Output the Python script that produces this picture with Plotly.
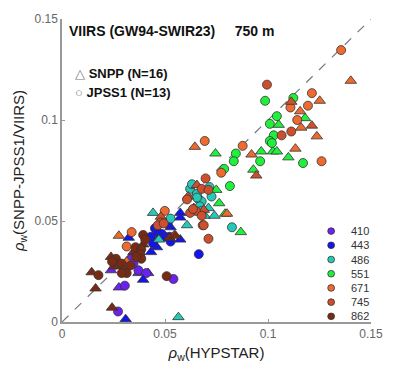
import plotly.graph_objects as go

bands = ["410", "443", "486", "551", "671", "745", "862"]
colors = {"410": "#6B22F0", "443": "#1414F0", "486": "#26C9B8", "551": "#1EF03C",
          "671": "#EE6A2E", "745": "#CF4F2C", "862": "#7A2A12"}

# JPSS1 (circles)
j_x = {
    "410": [0.0272, 0.0305, 0.0371, 0.0409, 0.0541, 0.0347],
    "443": [0.0451, 0.0465, 0.0484, 0.0499, 0.0522, 0.0527, 0.0432, 0.0664, 0.0442, 0.0513],
    "486": [0.0527, 0.0622, 0.0716, 0.0655, 0.0664, 0.0678, 0.0669, 0.0678, 0.0825, 0.0631, 0.0726, 0.0655],
    "551": [0.0986, 0.1123, 0.1043, 0.1009, 0.1028, 0.1009, 0.1019, 0.0844, 0.0834, 0.0962, 0.1170, 0.0787, 0.0815],
    "671": [0.1355, 0.1213, 0.1194, 0.1109, 0.1142, 0.1260, 0.0693, 0.0877, 0.0773, 0.0499, 0.0338, 0.0314, 0.0683],
    "745": [0.0995, 0.1113, 0.1066, 0.0697, 0.0678, 0.0711, 0.0607, 0.0650, 0.0678, 0.0622, 0.0688, 0.0636, 0.0480, 0.0465, 0.0494, 0.0711],
    "862": [0.0394, 0.0404, 0.0357, 0.0385, 0.0262, 0.0267, 0.0290, 0.0333, 0.0300, 0.0314, 0.0290, 0.0177, 0.0508, 0.0380, 0.0385, 0.0243, 0.0361],
}
j_y = {
    "410": [0.0052, 0.0180, 0.0256, 0.0242, 0.0213, 0.0289],
    "443": [0.0464, 0.0445, 0.0436, 0.0422, 0.0422, 0.0398, 0.0422, 0.0336, 0.0389, 0.0488],
    "486": [0.0512, 0.0659, 0.0668, 0.0635, 0.0607, 0.0597, 0.0573, 0.0550, 0.0469, 0.0682, 0.0621, 0.0616],
    "551": [0.1095, 0.1109, 0.1019, 0.0981, 0.0924, 0.0896, 0.0886, 0.0834, 0.0796, 0.0796, 0.0787, 0.0758, 0.0673],
    "671": [0.1346, 0.1133, 0.1071, 0.1062, 0.1000, 0.0796, 0.0896, 0.0872, 0.0739, 0.0550, 0.0445, 0.0374, 0.0479],
    "745": [0.1175, 0.0943, 0.0924, 0.0711, 0.0659, 0.0654, 0.0607, 0.0550, 0.0526, 0.0540, 0.0479, 0.0559, 0.0493, 0.0479, 0.0488, 0.0412],
    "862": [0.0431, 0.0408, 0.0370, 0.0360, 0.0313, 0.0289, 0.0289, 0.0280, 0.0256, 0.0242, 0.0242, 0.0232, 0.0227, 0.0336, 0.0313, 0.0299, 0.0322],
}
# SNPP (triangles)
s_x = {
    "410": [0.0276, 0.0238, 0.0333, 0.0371, 0.0418],
    "443": [0.0574, 0.0574, 0.0475, 0.0574, 0.0432, 0.0461, 0.0394, 0.0309, 0.0527, 0.0324],
    "486": [0.0442, 0.0470, 0.0607, 0.0693, 0.0740, 0.0565, 0.0711],
    "551": [0.1052, 0.1180, 0.0745, 0.0967, 0.1024, 0.1043, 0.1099, 0.0929, 0.0749, 0.0763, 0.0792, 0.0868],
    "671": [0.1402, 0.1156, 0.1251, 0.1161, 0.1237, 0.1133, 0.0920, 0.0645, 0.0276, 0.0314, 0.0801],
    "745": [0.1113, 0.1213, 0.0943, 0.0655, 0.0640, 0.0688, 0.0480, 0.0546, 0.0612],
    "862": [0.0371, 0.0394, 0.0253, 0.0238, 0.0144, 0.0163, 0.0243, 0.0522, 0.0551, 0.0347],
}
s_y = {
    "410": [0.0171, 0.0256, 0.0322, 0.0242, 0.0242],
    "443": [0.0517, 0.0540, 0.0422, 0.0408, 0.0346, 0.0370, 0.0209, 0.0014, 0.0469, 0.0417],
    "486": [0.0540, 0.0408, 0.0479, 0.0526, 0.0526, 0.0024, 0.0564],
    "551": [0.0976, 0.1009, 0.0834, 0.0844, 0.0844, 0.0844, 0.0815, 0.0754, 0.0654, 0.0588, 0.0536, 0.0445],
    "671": [0.1194, 0.1043, 0.1095, 0.0962, 0.0919, 0.0858, 0.0829, 0.0867, 0.0427, 0.0299, 0.0536],
    "745": [0.1090, 0.0972, 0.0725, 0.0678, 0.0564, 0.0555, 0.0521, 0.0431, 0.0621],
    "862": [0.0351, 0.0384, 0.0275, 0.0322, 0.0246, 0.0166, 0.0071, 0.0417, 0.0427, 0.0346],
}

axis_ticks = [0, 0.05, 0.1, 0.15]
axis_ticktext = ["0", "0.05", "0.1", "0.15"]

fig = go.Figure()
fig.add_trace(go.Scatter(x=[0, 0.15], y=[0, 0.15], mode="lines",
                         line=dict(color="#777777", width=1.2, dash="dash"),
                         showlegend=False, hoverinfo="skip"))
for b in bands:
    fig.add_trace(go.Scatter(x=s_x[b], y=s_y[b], mode="markers", showlegend=False,
                             marker=dict(symbol="triangle-up", size=10, color=colors[b],
                                         line=dict(color="#333333", width=0.8))))
    fig.add_trace(go.Scatter(x=j_x[b], y=j_y[b], mode="markers", showlegend=False,
                             marker=dict(symbol="circle", size=9, color=colors[b],
                                         line=dict(color="#333333", width=0.8))))

axcommon = dict(range=[0, 0.15], tickvals=axis_ticks, ticktext=axis_ticktext,
                showline=True, linecolor="#999999", linewidth=1.5, ticks="inside",
                ticklen=3, tickcolor="#999999", showgrid=False, zeroline=False,
                tickfont=dict(family="Arial, Liberation Sans", size=12, color="#666666"))
fig.update_xaxes(**axcommon,
                 title=dict(text="<i>ρ</i><sub>w</sub>(HYPSTAR)", standoff=7,
                            font=dict(family="Arial, Liberation Sans", size=15, color="#222222")))
fig.update_yaxes(**axcommon,
                 title=dict(text="<i>ρ</i><sub>w</sub>(SNPP-JPSS1/VIIRS)", standoff=6,
                            font=dict(family="Arial, Liberation Sans", size=15, color="#222222")))

font_b = dict(family="Arial, Liberation Sans", size=14, color="#111111")
fig.add_annotation(xref="paper", yref="paper", x=0.015, y=0.962, xanchor="left", yanchor="middle",
                   text="<b>VIIRS (GW94-SWIR23)     750 m</b>", showarrow=False, font=font_b)
font_l = dict(family="Arial, Liberation Sans", size=13, color="#111111")
fig.add_annotation(xref="paper", yref="paper", x=0.035, y=0.82, xanchor="left", yanchor="middle",
                   text="<span style='color:#777777'>△</span> <b>SNPP (N=16)</b>", showarrow=False, font=font_l)
fig.add_annotation(xref="paper", yref="paper", x=0.035, y=0.756, xanchor="left", yanchor="middle",
                   text="<span style='color:#777777'>○</span> <b>JPSS1 (N=13)</b>", showarrow=False, font=font_l)

# wavelength legend
for i, b in enumerate(bands):
    yc = 0.300 - i * 0.0469
    fig.add_shape(type="circle", xref="paper", yref="paper",
                  x0=0.860, x1=0.860 + 0.022, y0=yc - 0.011, y1=yc + 0.011,
                  fillcolor=colors[b], line=dict(color="#333333", width=0.8))
    fig.add_annotation(xref="paper", yref="paper", x=0.93, y=yc, xanchor="left", yanchor="middle",
                       text=b, showarrow=False,
                       font=dict(family="Arial, Liberation Sans", size=11, color="#333333"))

fig.update_layout(width=395, height=371, margin=dict(l=62, r=17, t=15, b=40),
                  plot_bgcolor="white", paper_bgcolor="white")
fig.write_html("out.html")
